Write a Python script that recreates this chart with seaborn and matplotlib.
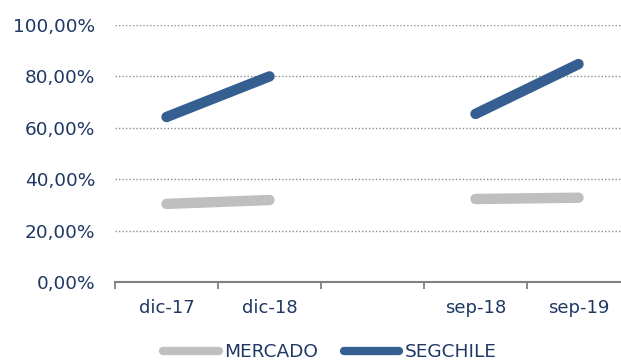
import numpy as np
import pandas as pd
import matplotlib
matplotlib.use("Agg")
import matplotlib.pyplot as plt
import seaborn as sns
from matplotlib.ticker import FuncFormatter, FixedLocator

# Data (blank category separates the two periods)
categories = ["dic-17", "dic-18", "", "sep-18", "sep-19"]
segments = [1, 1, 0, 2, 2]
mercado = [30.4, 31.9, np.nan, 32.3, 32.8]
segchile = [64.2, 80.0, np.nan, 65.4, 84.8]

navy = "#1F3864"
colors = {"MERCADO": "#BFBFBF", "SEGCHILE": "#355F91"}

df = pd.DataFrame({
    "pos": list(range(len(categories))) * 2,
    "segment": segments * 2,
    "value": mercado + segchile,
    "serie": ["MERCADO"] * len(categories) + ["SEGCHILE"] * len(categories),
}).dropna()

sns.set_style("white")
plt.rcParams["font.family"] = ["DejaVu Sans"]

fig = plt.figure(figsize=(6.21, 3.61), dpi=100)
ax = fig.add_axes([115 / 621, (361 - 282) / 361, (630 - 115) / 621, (282 - 25) / 361])

sns.lineplot(data=df, x="pos", y="value", hue="serie", units="segment",
             estimator=None, palette=colors, linewidth=7.5, ax=ax,
             solid_capstyle="round", legend=False)

ax.set_xlim(-0.5, 4.5)
ax.set_ylim(0, 100)
ax.set_xlabel("")
ax.set_ylabel("")

ax.yaxis.set_major_locator(FixedLocator([0, 20, 40, 60, 80, 100]))
ax.yaxis.set_major_formatter(FuncFormatter(lambda v, p: f"{v:.2f}%".replace(".", ",")))
ax.yaxis.grid(True, linestyle=(0, (1, 1.5)), color="#8C8C8C", linewidth=1.0)
ax.set_axisbelow(True)

ax.set_xticks(range(len(categories)))
ax.set_xticklabels(categories)
ax.set_xticks(np.arange(-0.5, 5, 1), minor=True)
ax.tick_params(axis="x", which="both", bottom=True)
ax.tick_params(axis="x", which="major", length=0, pad=12, labelsize=13, labelcolor=navy)
ax.tick_params(axis="x", which="minor", length=5, width=1.3, color="#808080", direction="out")
ax.tick_params(axis="y", length=0, pad=14, labelsize=13.3, labelcolor=navy)

for s in ["top", "right", "left"]:
    ax.spines[s].set_visible(False)
ax.spines["bottom"].set_color("#808080")
ax.spines["bottom"].set_linewidth(1.5)

handles = [plt.Line2D([], [], color=colors[k], linewidth=6, solid_capstyle="round") for k in colors]
leg = fig.legend(handles, list(colors), loc="center", bbox_to_anchor=(330 / 621, 1 - 352 / 361),
                 ncol=2, frameon=False, fontsize=13.3, handlelength=3.0, handletextpad=0.3,
                 columnspacing=1.4, borderaxespad=0)
for t in leg.get_texts():
    t.set_color(navy)

fig.savefig("out.png", dpi=100)
